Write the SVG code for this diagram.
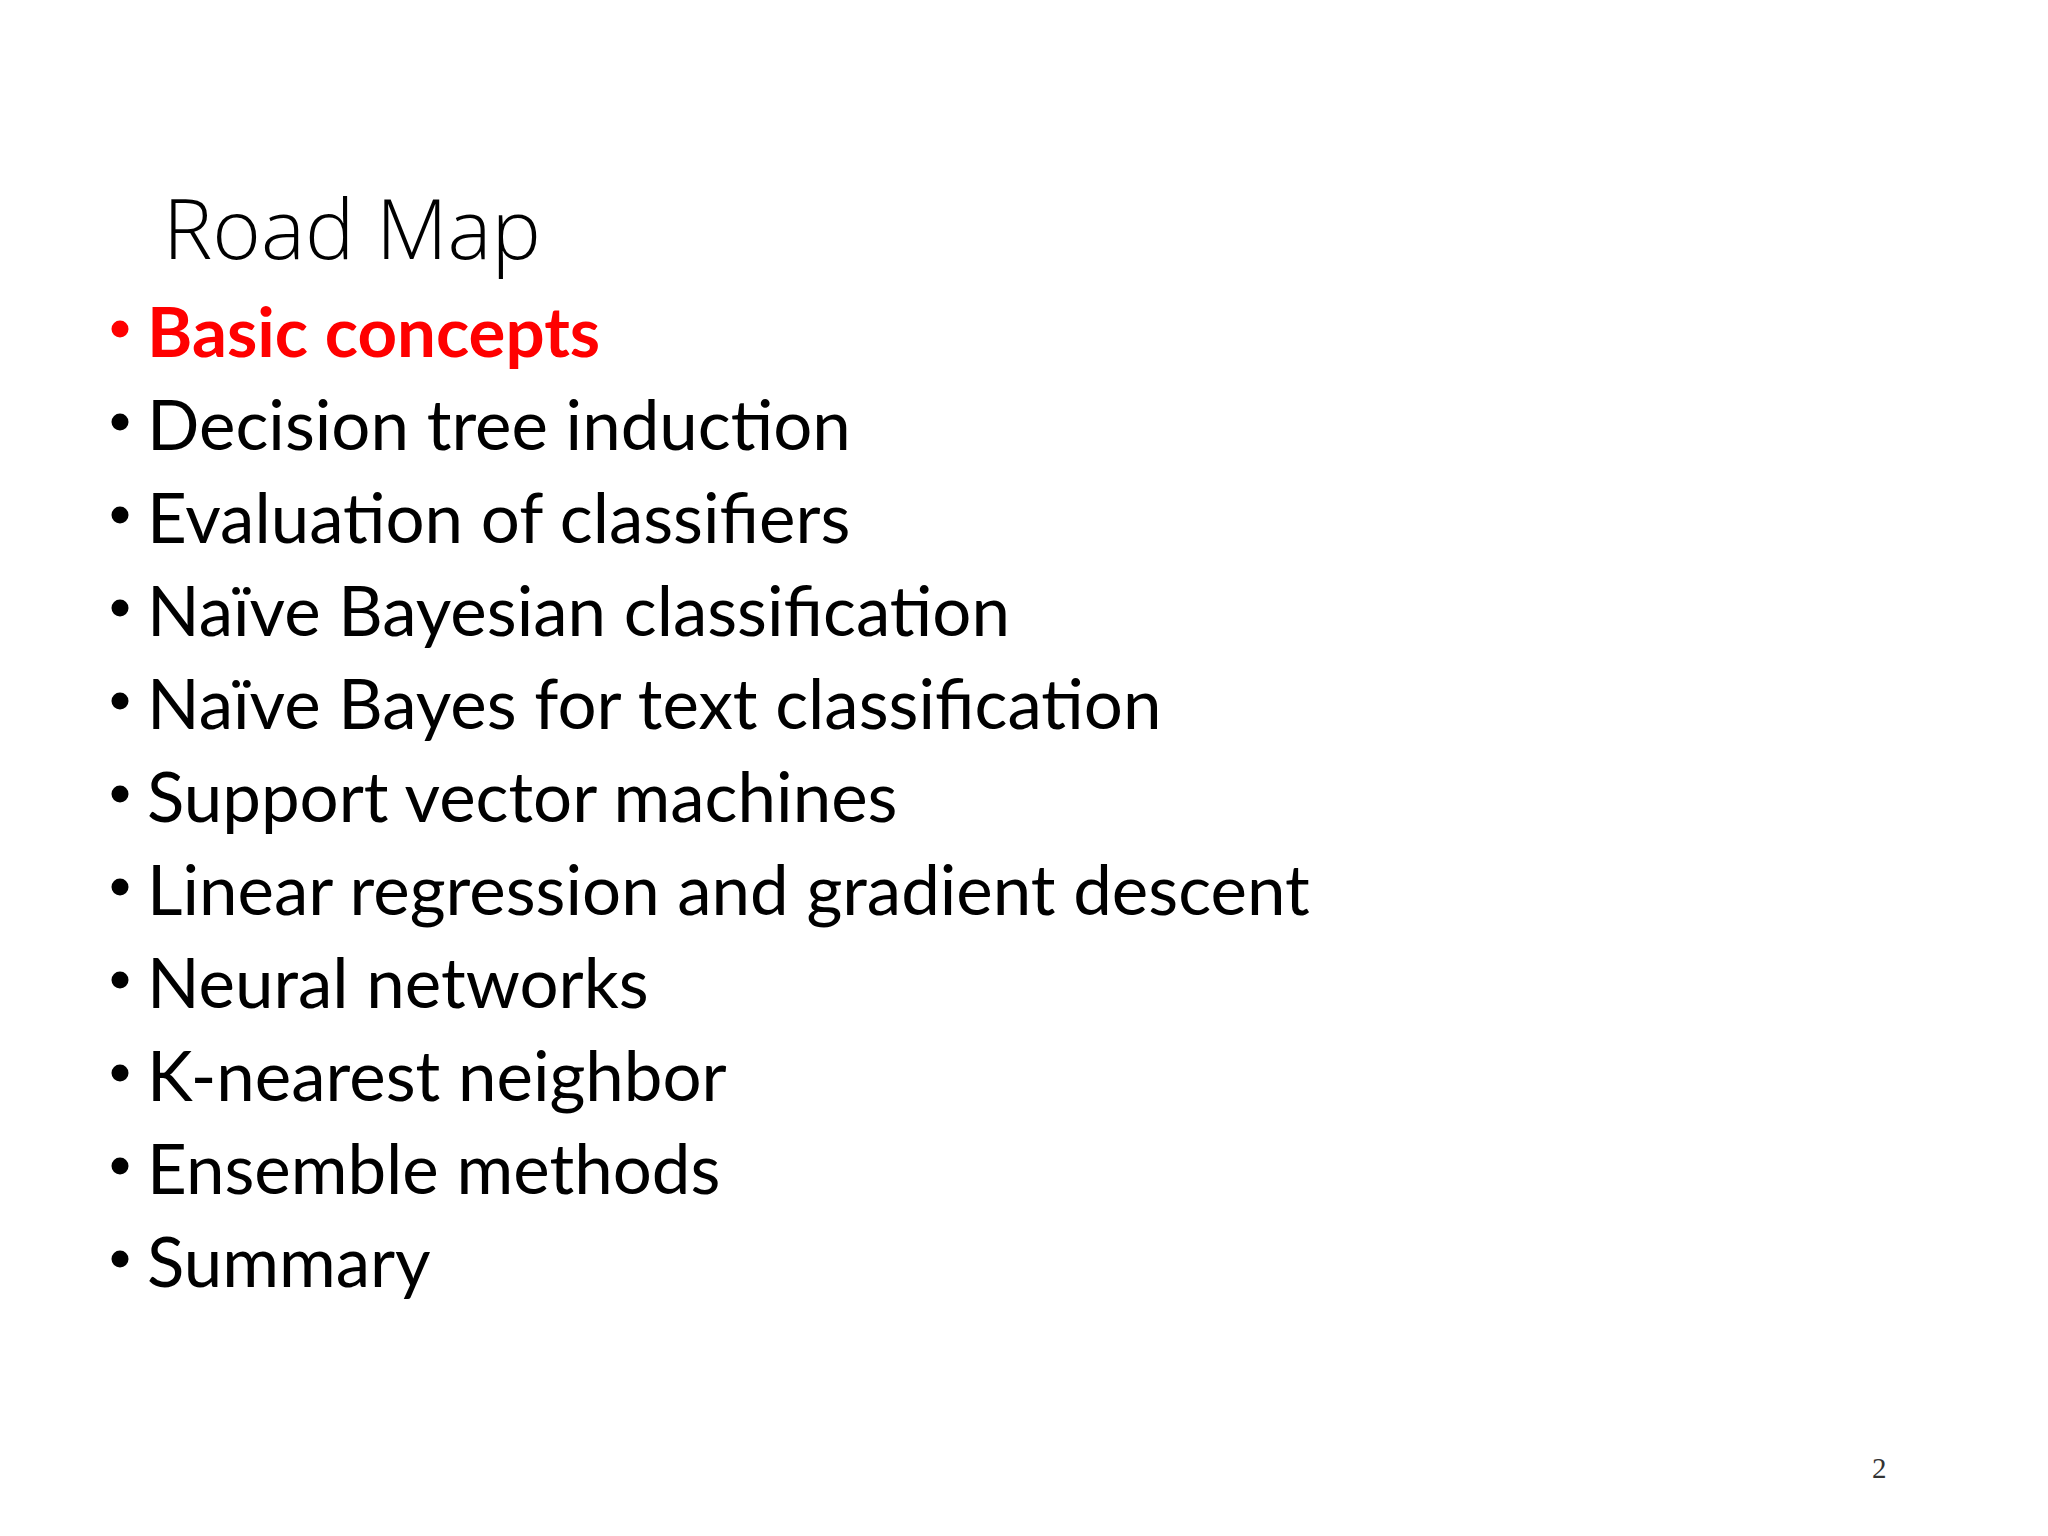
<svg xmlns="http://www.w3.org/2000/svg" width="2048" height="1536" viewBox="0 0 2048 1536">
<style>
.t{font-family:Lato,"Open Sans",sans-serif;font-size:69px;fill:#000}
.b{fill:#000}
</style>
<rect width="2048" height="1536" fill="#fff"/>
<g id="title"><text x="163" y="259" style="font-family:'Open Sans',Lato,sans-serif;font-size:83px;font-weight:300;fill:#000">Road Map</text></g>
<g id="list">
<circle cx="120" cy="329" r="8.5" fill="#f00"/>
<text class="t" x="147" y="357" style="fill:#f00;font-weight:bold">Basic concepts</text>
<circle class="b" cx="120" cy="422" r="8.5"/><text class="t" x="147" y="450">Decision tree induction</text>
<circle class="b" cx="120" cy="515" r="8.5"/><text class="t" x="147" y="543">Evaluation of classifiers</text>
<circle class="b" cx="120" cy="608" r="8.5"/><text class="t" x="147" y="636">Naïve Bayesian classification</text>
<circle class="b" cx="120" cy="701" r="8.5"/><text class="t" x="147" y="729">Naïve Bayes for text classification</text>
<circle class="b" cx="120" cy="794" r="8.5"/><text class="t" x="147" y="822">Support vector machines</text>
<circle class="b" cx="120" cy="887" r="8.5"/><text class="t" x="147" y="915">Linear regression and gradient descent</text>
<circle class="b" cx="120" cy="980" r="8.5"/><text class="t" x="147" y="1008">Neural networks</text>
<circle class="b" cx="120" cy="1073" r="8.5"/><text class="t" x="147" y="1101">K-nearest neighbor</text>
<circle class="b" cx="120" cy="1166" r="8.5"/><text class="t" x="147" y="1194">Ensemble methods</text>
<circle class="b" cx="120" cy="1259" r="8.5"/><text class="t" x="147" y="1287">Summary</text>
</g>
<g id="page"><text x="1872" y="1478" style="font-family:'Liberation Serif',serif;font-size:29px;fill:#333">2</text></g>
</svg>
